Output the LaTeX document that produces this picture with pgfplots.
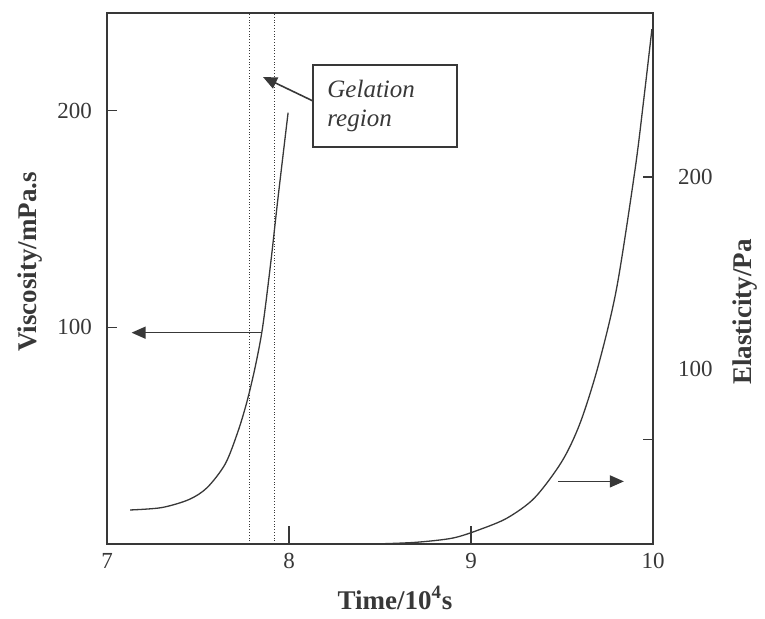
\documentclass[border=0pt]{standalone}
\usepackage{fontspec}
\setmainfont{Liberation Serif}
\usepackage{pgfplots}
\pgfplotsset{compat=1.18}
\usetikzlibrary{arrows.meta}
\definecolor{ink}{gray}{0.22}
\begin{document}
\begin{tikzpicture}
\useasboundingbox (-53.5pt,-37pt) rectangle (329pt,272pt);
\begin{axis}[at={(0,0)}, anchor=south west, scale only axis,
  width=273pt, height=265.5pt,
  xmin=7, xmax=10, ymin=0, ymax=245,
  xtick={7,8,9,10}, ytick={100,200},
  xtick pos=left, ytick pos=left,
  tick align=inside,
  major tick length=5pt,
  xtick style={/pgfplots/major tick length=9pt, line width=0.6pt, ink},
  ytick style={line width=0.6pt, ink},
  axis line style={line width=0.9pt, ink},
  /pgf/number format/assume math mode=true,
  ticklabel style={font=\fontsize{11.5}{13}\selectfont, text=ink},
  yticklabel style={xshift=-4pt},
  xticklabel style={yshift=-1pt},
  clip=false]
\addplot[ink, line width=0.65pt, smooth] coordinates {
 (7.127,15.7) (7.3,16.8) (7.45,20.5) (7.55,26) (7.65,37) (7.72,52)
 (7.77,66) (7.815,82) (7.855,100) (7.9,130) (7.94,160) (7.995,199)};
\addplot[ink, line width=0.4pt, densely dotted] coordinates {(7.78,0) (7.78,245)};
\addplot[ink, line width=0.4pt, densely dotted] coordinates {(7.92,0) (7.92,245)};
\draw[ink, line width=0.7pt, -{Triangle[length=7pt,width=6pt]}] (axis cs:7.85,97.5) -- (axis cs:7.135,97.5);
\end{axis}
\begin{axis}[at={(0,0)}, anchor=south west, scale only axis,
  width=273pt, height=265.5pt,
  xmin=7, xmax=10, ymin=8.9, ymax=285.4,
  axis x line=none, axis y line*=right,
  ytick={63.5,200}, yticklabels={,200},
  extra y ticks={100}, extra y tick style={major tick length=0pt},
  tick align=inside, major tick length=5pt,
  ytick style={line width=0.6pt, ink},
  axis line style={line width=0.9pt, ink},
  /pgf/number format/assume math mode=true,
  ticklabel style={font=\fontsize{11.5}{13}\selectfont, text=ink},
  yticklabel style={xshift=9pt},
  clip=false]
\addplot[ink, line width=0.65pt, smooth] coordinates {
 (8.5,9.0) (8.7,9.8) (8.9,12.0) (9.05,16.5) (9.2,22.5) (9.35,33) (9.5,52)
 (9.6,72) (9.7,102) (9.8,142) (9.9,203) (9.95,241) (9.994,277)};
\draw[ink, line width=0.7pt, -{Triangle[length=7pt,width=6pt]}] (axis cs:9.48,41.5) -- (axis cs:9.84,41.5);
\end{axis}
% gelation box
\draw[ink, line width=0.6pt] (103pt,198.5pt) rectangle (175pt,239.5pt);
\node[anchor=west, align=left, text=ink, font=\fontsize{12.5}{14.5}\selectfont\itshape, inner sep=0pt] at (110pt,219pt) {Gelation\\region};
\draw[ink, line width=0.8pt, -{Triangle[length=7pt,width=6pt]}] (103pt,221.5pt) -- (78pt,233.5pt);
% axis labels
\node[rotate=90, font=\fontsize{13.5}{16}\selectfont\bfseries, text=ink] at (-38.5pt,141pt) {Viscosity/mPa.s};
\node[rotate=90, font=\fontsize{13.5}{16}\selectfont\bfseries, text=ink] at (319pt,116pt) {Elasticity/Pa};
\node[font=\fontsize{13.5}{16}\selectfont\bfseries, text=ink] at (144pt,-27pt) {Time/10\textsuperscript{4}s};
\end{tikzpicture}
\end{document}
